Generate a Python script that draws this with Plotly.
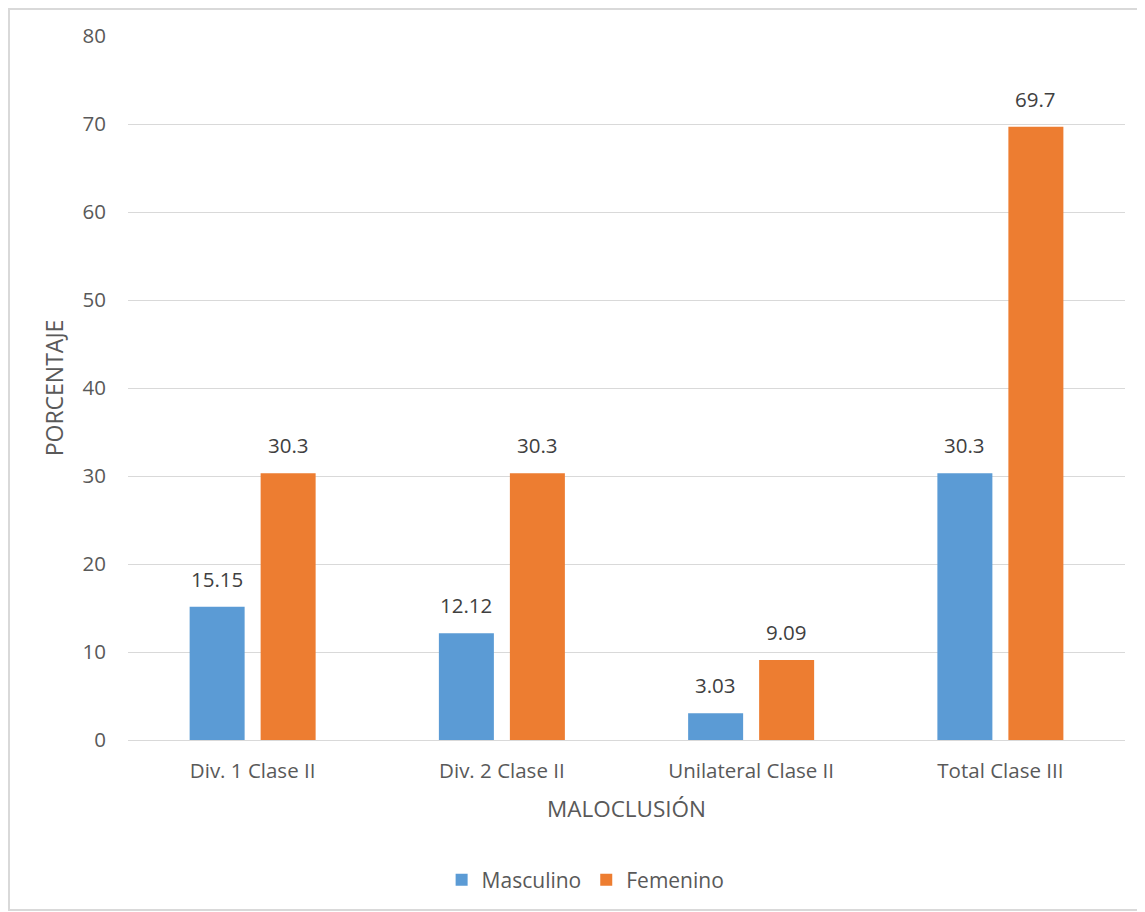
import plotly.graph_objects as go

categories = ["Div. 1 Clase II", "Div. 2 Clase II", "Unilateral Clase II", "Total Clase III"]
masculino = [15.15, 12.12, 3.03, 30.3]
femenino = [30.3, 30.3, 9.09, 69.7]
series_names = ["Masculino", "Femenino"]
y_ticks = [0, 10, 20, 30, 40, 50, 60, 70, 80]

FONT = "Open Sans"
TXT = "#595959"
LBL = "#404040"
COLORS = ["#5B9BD5", "#ED7D31"]

# figure is placed at (8, 8) on the page by the browser's body margin
W, H = 1137, 904
L, R, T, B = 120, 20, 28, 172
PW, PH = W - L - R, H - T - B
cat_w = PW / len(categories)
slot = 71.0
bar_w = 55.0
bargap = 1 - 2 * slot / cat_w
bargroupgap = (slot - bar_w) / slot

fig = go.Figure()
annotations = []
for i, (name, vals) in enumerate(zip(series_names, [masculino, femenino])):
    fig.add_trace(go.Bar(
        x=categories, y=vals, name=name,
        marker=dict(color=COLORS[i], line=dict(width=0)),
    ))
    shift = (-0.5 if i == 0 else 0.5) * slot
    for c, v in zip(categories, vals):
        annotations.append(dict(
            x=c, y=v, xref="x", yref="y", text=f"{v:g}", showarrow=False,
            xshift=shift, yshift=12, yanchor="bottom", xanchor="center",
            font=dict(family=FONT, size=20.5, color=LBL),
        ))

fig.update_layout(
    width=W, height=H,
    margin=dict(l=L, r=R, t=T, b=B),
    paper_bgcolor="white", plot_bgcolor="white",
    barmode="group", bargap=bargap, bargroupgap=bargroupgap,
    font=dict(family=FONT, size=20.5, color=TXT),
    showlegend=True,
    legend=dict(orientation="h", x=0.459, xanchor="center", y=(732 - 872) / PH, yanchor="middle",
                font=dict(family=FONT, size=21, color=TXT), traceorder="normal"),
    xaxis=dict(
        title=dict(text="MALOCLUSIÓN", font=dict(family=FONT, size=22.5, color=TXT), standoff=18),
        tickfont=dict(family=FONT, size=20.5, color=TXT), showgrid=False, ticks="",
        ticklabelstandoff=16, showline=False,
    ),
    yaxis=dict(
        title=dict(text="PORCENTAJE", font=dict(family=FONT, size=23, color=TXT), standoff=12),
        range=[0, 80], tickvals=y_ticks, tickfont=dict(family=FONT, size=20.5, color=TXT),
        showgrid=True, gridcolor="#D9D9D9", gridwidth=1.3, zeroline=True, zerolinecolor="#D9D9D9",
        zerolinewidth=1.3, ticks="", ticklabelstandoff=21, showline=False,
    ),
    annotations=annotations,
    shapes=[dict(type="rect", xref="paper", yref="paper",
                 x0=(1 - L) / PW, x1=(1132 - L) / PW,
                 y0=(T + PH - 902) / PH, y1=(T + PH - 1) / PH,
                 line=dict(color="#D9D9D9", width=2), fillcolor="rgba(0,0,0,0)", layer="below")],
)

fig.write_html("out.html")
